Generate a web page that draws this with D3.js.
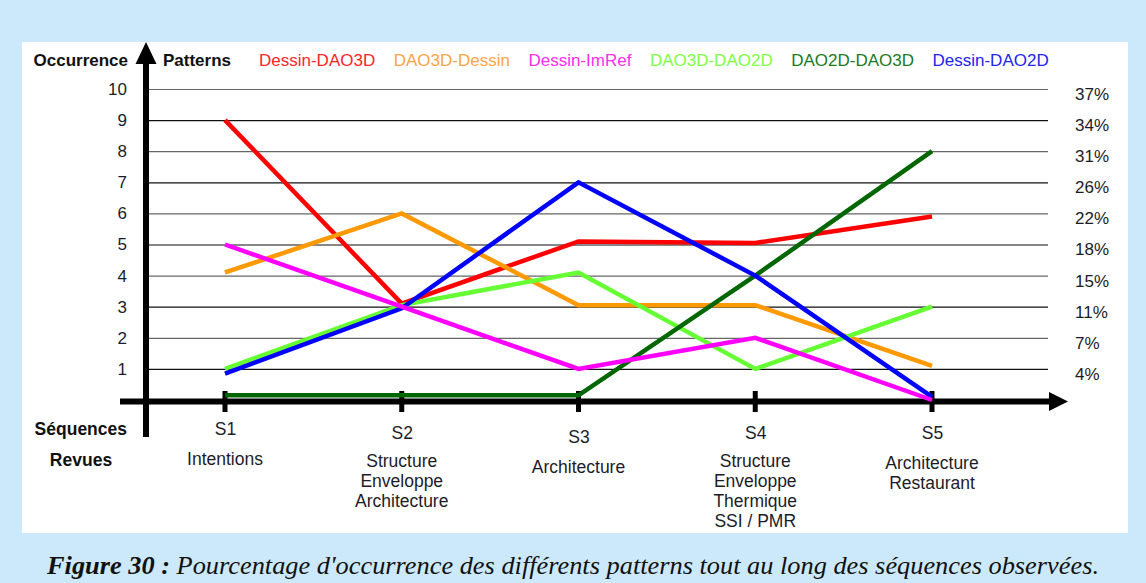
<!DOCTYPE html>
<html>
<head>
<meta charset="utf-8">
<script src="https://cdn.jsdelivr.net/npm/d3@7"></script>
<style>
    body { margin: 0; background: #cce9fb; }
    svg { display: block; font-family: 'Liberation Sans', Arial, sans-serif; }
</style>
</head>
<body>
<div id="chart"></div>
<script>
// Données
const sequences = ['S1', 'S2', 'S3', 'S4', 'S5'];
const revues = [
    ['Intentions'],
    ['Structure', 'Enveloppe', 'Architecture'],
    ['Architecture'],
    ['Structure', 'Enveloppe', 'Thermique', 'SSI / PMR'],
    ['Architecture', 'Restaurant']
];
const occurrenceTicks = [1, 2, 3, 4, 5, 6, 7, 8, 9, 10];
const percentLabels = ['4%', '7%', '11%', '15%', '18%', '22%', '26%', '31%', '34%', '37%'];

const patternNames = ['Dessin-DAO3D', 'DAO3D-Dessin', 'Dessin-ImRef', 'DAO3D-DAO2D', 'DAO2D-DAO3D', 'Dessin-DAO2D'];
const dessinDao3d = [9, 3.1, 5.1, 5.05, 5.9];
const dao3dDessin = [4.1, 6, 3.05, 3.05, 1.1];
const dessinImRef = [5, 3, 1, 2, 0];
const dao3dDao2d = [1, 3.05, 4.1, 1, 3];
const dao2dDao3d = [0.15, 0.15, 0.15, 4, 8];
const dessinDao2d = [0.85, 2.95, 7, 4, 0.1];

const lineColors = ['#ff0000', '#ff9900', '#ff00ff', '#66ff33', '#006600', '#0000ff'];
const textColors = ['#ff2626', '#ffa347', '#ff2df0', '#7dff45', '#1d7a1d', '#2424f0'];

const series = [dessinDao3d, dao3dDessin, dessinImRef, dao3dDao2d, dao2dDao3d, dessinDao2d]
    .map((values, i) => ({ name: patternNames[i], values: values, color: lineColors[i], text: textColors[i] }));

const W = 1146, H = 583;
const svg = d3.select('#chart').append('svg')
    .attr('width', W)
    .attr('height', H);

// Panneau blanc
svg.append('rect')
    .attr('x', 22).attr('y', 42)
    .attr('width', 1106).attr('height', 491)
    .attr('fill', '#fff');

// Échelles
const x = d3.scalePoint().domain(sequences).range([225, 932]);
const y = d3.scaleLinear().domain([0, 10]).range([400, 89]);

// Grille
const grid = svg.append('g')
    .attr('transform', 'translate(148,0)')
    .call(d3.axisLeft(y).tickValues(occurrenceTicks).tickSize(-900).tickFormat(''));
grid.select('.domain').remove();
grid.selectAll('.tick line')
    .attr('stroke', d => d % 2 ? '#111' : '#666')
    .attr('stroke-width', 1.2);

// Étiquettes gauche
const leftAxis = svg.append('g')
    .attr('transform', 'translate(130,0)')
    .call(d3.axisLeft(y).tickValues(occurrenceTicks).tickSize(0).tickPadding(3));
leftAxis.select('.domain').remove();
leftAxis.selectAll('text')
    .attr('font-family', "'Liberation Sans', Arial, sans-serif")
    .attr('font-size', 17)
    .attr('fill', '#1c1c28');

// Étiquettes droite (pourcentages)
const rightAxis = svg.append('g')
    .attr('transform', 'translate(1072,5)')
    .call(d3.axisRight(y).tickValues(occurrenceTicks).tickSize(0).tickPadding(3)
        .tickFormat(d => percentLabels[d - 1]));
rightAxis.select('.domain').remove();
rightAxis.selectAll('text')
    .attr('font-family', "'Liberation Sans', Arial, sans-serif")
    .attr('font-size', 17)
    .attr('fill', '#1c1c28');

// Axes avec flèches
svg.append('line')
    .attr('x1', 120).attr('x2', 1052)
    .attr('y1', 401.5).attr('y2', 401.5)
    .attr('stroke', '#000').attr('stroke-width', 6);
svg.append('path')
    .attr('d', 'M1049,392 L1068,401.5 L1049,411 Z')
    .attr('fill', '#000');

svg.append('line')
    .attr('x1', 146).attr('x2', 146)
    .attr('y1', 62).attr('y2', 437)
    .attr('stroke', '#000').attr('stroke-width', 6);
svg.append('path')
    .attr('d', 'M135.5,64 L146,42 L156.5,64 Z')
    .attr('fill', '#000');

// Graduations des séquences
svg.selectAll('.seq-tick')
    .data(sequences)
    .enter().append('line')
    .attr('class', 'seq-tick')
    .attr('x1', d => x(d)).attr('x2', d => x(d))
    .attr('y1', 391).attr('y2', 412)
    .attr('stroke', '#000').attr('stroke-width', 5);

// Lignes
const line = d3.line()
    .x((d, i) => x(sequences[i]))
    .y(d => y(d));

const drawOrder = [0, 1, 3, 4, 5, 2];
drawOrder.forEach(i => {
    svg.append('path')
        .datum(series[i].values)
        .attr('fill', 'none')
        .attr('stroke', series[i].color)
        .attr('stroke-width', 4.5)
        .attr('stroke-linejoin', 'miter')
        .attr('d', line);
});

// Étiquettes des séquences
const seqShift = [0, 4, 8, 4, 4];
const bottomAxis = svg.append('g')
    .attr('transform', 'translate(0,423)')
    .call(d3.axisBottom(x).tickSize(0).tickPadding(0));
bottomAxis.select('.domain').remove();
bottomAxis.selectAll('text')
    .attr('font-family', "'Liberation Sans', Arial, sans-serif")
    .attr('font-size', 17.5)
    .attr('fill', '#1c1c28')
    .attr('y', (d, i) => seqShift[i]);

// Revues
const revueShift = [465, 467, 473, 467, 469];
svg.selectAll('.revue')
    .data(revues)
    .enter().append('text')
    .attr('class', 'revue')
    .attr('text-anchor', 'middle')
    .attr('font-size', 17.5)
    .attr('fill', '#1c1c28')
    .attr('y', (d, i) => revueShift[i])
    .each(function(d, i) {
        d3.select(this).selectAll('tspan')
            .data(d)
            .enter().append('tspan')
            .attr('x', x(sequences[i]))
            .attr('dy', (t, j) => j ? 20 : 0)
            .text(t => t);
    });

// Titres
svg.append('text')
    .attr('x', 128).attr('y', 66)
    .attr('text-anchor', 'end')
    .attr('font-weight', 'bold')
    .attr('font-size', 17)
    .attr('fill', '#111')
    .text('Occurrence');

svg.append('text')
    .attr('x', 163).attr('y', 66)
    .attr('font-weight', 'bold')
    .attr('font-size', 17)
    .attr('fill', '#111')
    .text('Patterns');

svg.append('text')
    .attr('x', 127).attr('y', 435)
    .attr('text-anchor', 'end')
    .attr('font-weight', 'bold')
    .attr('font-size', 17.5)
    .attr('fill', '#111')
    .text('Séquences');

svg.append('text')
    .attr('x', 81).attr('y', 466)
    .attr('text-anchor', 'middle')
    .attr('font-weight', 'bold')
    .attr('font-size', 17.5)
    .attr('fill', '#111')
    .text('Revues');

// Légende
let lx = 259;
series.forEach(s => {
    const t = svg.append('text')
        .attr('x', lx).attr('y', 66)
        .attr('font-size', 17)
        .attr('fill', s.text)
        .text(s.name);
    lx += t.node().getComputedTextLength() + 18.5;
});

// Légende de la figure
const caption = svg.append('text')
    .attr('x', 573).attr('y', 574)
    .attr('text-anchor', 'middle')
    .attr('font-family', "'Liberation Serif', 'Times New Roman', serif")
    .attr('font-style', 'italic')
    .attr('font-size', 25)
    .attr('fill', '#111')
    .attr('textLength', 1052)
    .attr('lengthAdjust', 'spacingAndGlyphs');
caption.append('tspan').attr('font-weight', 'bold').text('Figure 30 :');
caption.append('tspan').text(" Pourcentage d'occurrence des différents patterns tout au long des séquences observées.");
</script>
</body>
</html>
